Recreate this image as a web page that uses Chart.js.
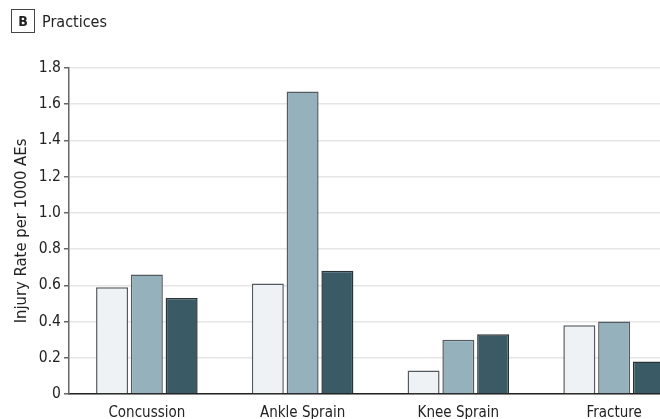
<!DOCTYPE html>
<html>
<head>
<meta charset="utf-8">
<script src="https://cdn.jsdelivr.net/npm/chart.js@4.4.1/dist/chart.umd.min.js"></script>
<style>
  html, body { margin: 0; padding: 0; background: #fff; }
  #frame { position: relative; width: 660px; height: 419px; overflow: hidden; }
  #wrap { position: absolute; left: 0; top: 0; width: 700px; height: 424px; }
  #head { position: absolute; left: 11px; top: 9px; font-family: "Liberation Sans Narrow", "DejaVu Sans Condensed", sans-serif; font-size: 16px; color: #222; }
  #head .box { display: inline-block; width: 22px; height: 22px; line-height: 22px; text-align: center; border: 1px solid #444; font-weight: bold; font-size: 14px; margin-right: 7px; vertical-align: middle; }
  #head .txt { vertical-align: middle; }
</style>
</head>
<body>
<div id="frame">
  <div id="wrap"><canvas id="myChart" width="700" height="424"></canvas></div>
  <div id="head"><span class="box">B</span><span class="txt">Practices</span></div>
</div>
<script>
// injury types and rates
const injuries = ["Concussion", "Ankle Sprain", "Knee Sprain", "Fracture"];
const series1 = [0.59, 0.61, 0.13, 0.38];
const series2 = [0.66, 1.67, 0.30, 0.40];
const series3 = [0.53, 0.68, 0.33, 0.18];
const yTicks = [0, 0.2, 0.4, 0.6, 0.8, 1.0, 1.2, 1.4, 1.6, 1.8];

const fontFam = '"Liberation Sans Narrow", "DejaVu Sans Condensed", sans-serif';

let ctx = document.getElementById("myChart").getContext('2d');

let chart = new Chart(ctx, {
  type: 'bar',
  data: {
    labels: injuries,
    datasets: [{
      data: series1,
      backgroundColor: "#eef2f5",
      borderColor: "#555a5e",
      borderWidth: 1.5
    }, {
      data: series2,
      backgroundColor: "#95b1bc",
      borderColor: "#555a5e",
      borderWidth: 1.5
    }, {
      data: series3,
      backgroundColor: "#3a5a66",
      borderColor: "#2a3236",
      borderWidth: 1.5
    }]
  },
  options: {
    responsive: false,
    animation: false,
    devicePixelRatio: 1,
    layout: { padding: { top: 68, right: 8, left: 12, bottom: 0 } },
    categoryPercentage: 0.67,
    barPercentage: 0.92,
    plugins: {
      legend: { display: false },
      tooltip: { enabled: false }
    },
    scales: {
      x: {
        grid: { display: false },
        border: { color: "#222", width: 1.5 },
        ticks: { color: "#222", font: { family: fontFam, size: 15 }, padding: 2 }
      },
      y: {
        min: 0,
        max: 1.8,
        afterBuildTicks: axis => { axis.ticks = yTicks.map(v => ({ value: v })); },
        grid: { color: "#e6e6e6", lineWidth: 1.5, tickLength: 5, tickColor: "#666", drawTicks: true },
        border: { color: "#666", width: 1.5 },
        ticks: {
          color: "#222",
          font: { family: fontFam, size: 15.5 },
          padding: 3,
          callback: v => v === 0 ? "0" : v.toFixed(1)
        },
        title: {
          display: true,
          text: "Injury Rate per 1000 AEs",
          color: "#222",
          font: { family: fontFam, size: 16.5 },
          padding: { top: 0, bottom: 4 }
        }
      }
    }
  }
});
</script>
</body>
</html>
